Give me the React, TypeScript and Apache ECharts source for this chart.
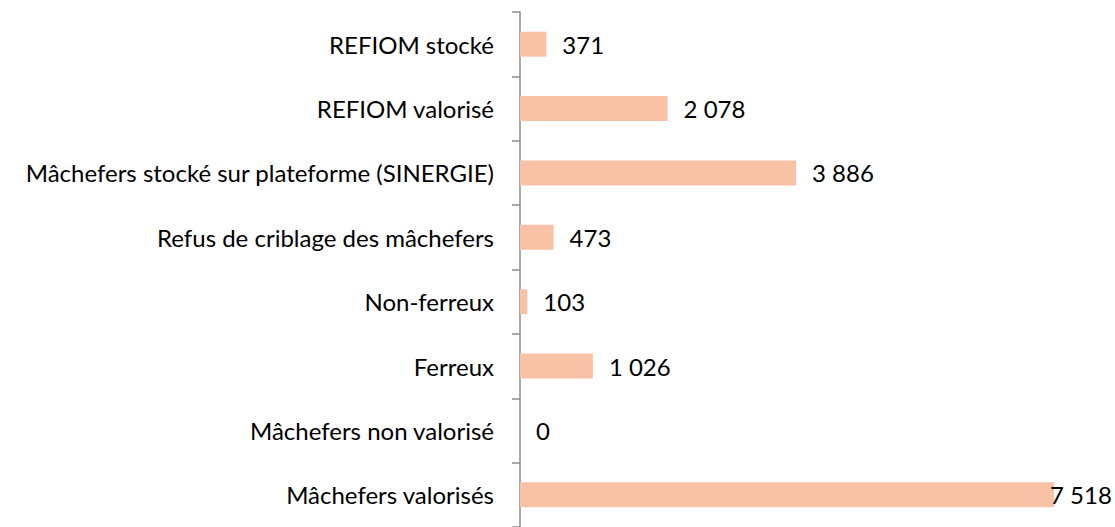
import React, { useEffect, useRef } from "react";
import * as echarts from "echarts";

const categories = [
  "REFIOM stocké",
  "REFIOM valorisé",
  "Mâchefers stocké sur plateforme (SINERGIE)",
  "Refus de criblage des mâchefers",
  "Non-ferreux",
  "Ferreux",
  "Mâchefers non valorisé",
  "Mâchefers valorisés",
];
const values = [371, 2078, 3886, 473, 103, 1026, 0, 7518];

const fmt = (v: number) => String(v).replace(/\B(?=(\d{3})+(?!\d))/g, " ");

export default function App() {
  const ref = useRef<HTMLDivElement>(null);
  useEffect(() => {
    const chart = echarts.init(ref.current!, null, { renderer: "svg" });
    const font = "Lato, 'Noto Sans', sans-serif";
    chart.setOption({
      animation: false,
      grid: { left: 520, right: 61, top: 12, bottom: -2 },
      xAxis: {
        type: "value",
        min: 0,
        max: 7518,
        show: false,
      },
      yAxis: {
        type: "category",
        data: categories,
        inverse: true,
        axisLine: { show: true, lineStyle: { color: "#8c8c8c", width: 1.5 } },
        axisTick: { show: true, length: 8, lineStyle: { color: "#8c8c8c", width: 1.5 } },
        axisLabel: { color: "#000", fontSize: 24, fontFamily: font, margin: 26 },
        splitLine: { show: false },
      },
      series: [
        {
          type: "bar",
          data: values.map((v, i) =>
            i === values.length - 1
              ? { value: v, label: { offset: [-20, 0] } }
              : v
          ),
          barWidth: 25,
          itemStyle: { color: "#F9C2A7" },
          label: {
            show: true,
            position: "right",
            distance: 16,
            color: "#000",
            fontSize: 24,
            fontFamily: font,
            formatter: (p: any) => fmt(p.value),
          },
        },
      ],
    });
    return () => chart.dispose();
  }, []);
  return <div ref={ref} style={{ width: 1115, height: 527, position: "absolute", left: 0, top: 0 }} />;
}
